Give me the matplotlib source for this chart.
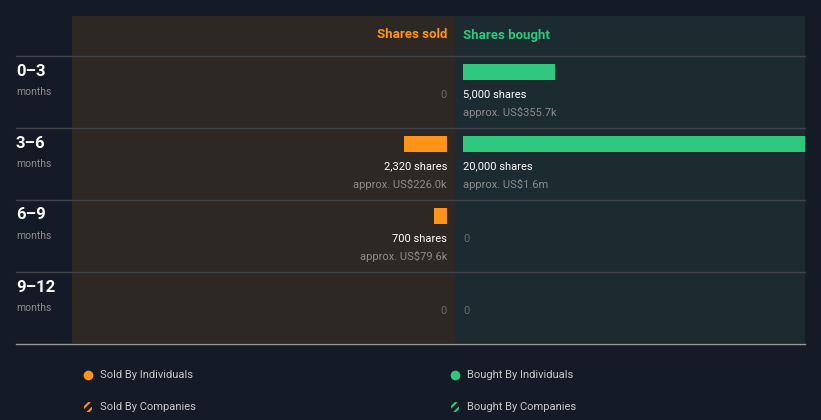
import matplotlib.pyplot as plt
from matplotlib.patches import Rectangle, FancyBboxPatch

plt.rcParams['font.family'] = ['Roboto', 'DejaVu Sans']

# data
periods = ['0\u20133', '3\u20136', '6\u20139', '9\u201312']
sold_shares = [0, 2320, 700, 0]
sold_value = ['', 'approx. US$226.0k', 'approx. US$79.6k', '']
bought_shares = [5000, 20000, 0, 0]
bought_value = ['approx. US$355.7k', 'approx. US$1.6m', '', '']

BG = '#151b26'
SOLD_BG = '#2d2823'
BOUGHT_BG = '#1b2b2f'
ORANGE = '#ff9417'
GREEN = '#2ec97e'
GRAY = '#8c8c8c'
ZERO = '#6a6a6a'

W, H = 821, 420
fig = plt.figure(figsize=(W / 100, H / 100), dpi=100, facecolor=BG)


def fx(x):
    return x / W


def fy(y):
    return 1 - y / H


def rect(x0, y0, x1, y1, **kw):
    fig.patches.append(Rectangle((fx(x0), fy(y1)), fx(x1) - fx(x0), fy(y0) - fy(y1),
                                 transform=fig.transFigure, **kw))


# panels
rect(72, 16, 455, 343, facecolor=SOLD_BG, edgecolor='none', zorder=-2)
rect(455, 16, 805, 343, facecolor=BOUGHT_BG, edgecolor='none', zorder=-2)

# row separators
for y in [56, 128, 200, 272]:
    fig.add_artist(plt.Line2D([fx(16), fx(805)], [fy(y), fy(y)], color='#41434a', lw=1, zorder=-1))
fig.add_artist(plt.Line2D([fx(16), fx(805)], [fy(343.5), fy(343.5)], color='#9a9a9a', lw=1, zorder=-1))

# headers
fig.text(fx(447), fy(35), 'Shares sold', color=ORANGE, fontsize=9.5, fontweight='bold',
         ha='right', va='center')
fig.text(fx(463), fy(35), 'Shares bought', color=GREEN, fontsize=9.5, fontweight='bold',
         ha='left', va='center')

# bar axes (share scale ~0.0184 px per share)
scale = 0.0184
ax_s = fig.add_axes([fx(72), fy(344), fx(447) - fx(72), fy(56) - fy(344)])
ax_b = fig.add_axes([fx(463), fy(344), fx(805) - fx(463), fy(56) - fy(344)])
for ax in (ax_s, ax_b):
    ax.set_facecolor('none')
    ax.set_ylim(4, 0)
    ax.axis('off')
ax_s.set_xlim((447 - 72) / scale, 0)
ax_b.set_xlim(0, (805 - 463) / scale)

rows = [i + 8 / 72 for i in range(4)]
ax_s.barh(rows, sold_shares, height=16 / 72, align='edge', color=ORANGE)
ax_b.barh(rows, bought_shares, height=16 / 72, align='edge', color=GREEN)

for i in range(4):
    top = 56 + 72 * i
    # row labels
    fig.text(fx(16), fy(top + 15), periods[i], color='white', fontsize=12,
             fontweight='bold', ha='left', va='center')
    fig.text(fx(16), fy(top + 36), 'months', color=GRAY, fontsize=7.5, ha='left', va='center')
    # sold side
    if sold_shares[i]:
        fig.text(fx(447), fy(top + 38.5), f'{sold_shares[i]:,} shares', color='white',
                 fontsize=8, ha='right', va='center')
        fig.text(fx(447), fy(top + 56.5), sold_value[i], color=GRAY, fontsize=8,
                 ha='right', va='center')
    else:
        fig.text(fx(447), fy(top + 38.5), '0', color=ZERO, fontsize=8, ha='right', va='center')
    # bought side
    if bought_shares[i]:
        fig.text(fx(463), fy(top + 38.5), f'{bought_shares[i]:,} shares', color='white',
                 fontsize=8, ha='left', va='center')
        fig.text(fx(463), fy(top + 56.5), bought_value[i], color=GRAY, fontsize=8,
                 ha='left', va='center')
    else:
        fig.text(fx(463), fy(top + 38.5), '0', color=ZERO, fontsize=8, ha='left', va='center')

# legend
legend = [('Sold By Individuals', ORANGE, 88, 375, False),
          ('Bought By Individuals', GREEN, 455, 375, False),
          ('Sold By Companies', ORANGE, 88, 407, True),
          ('Bought By Companies', GREEN, 455, 407, True)]
plt.rcParams['hatch.linewidth'] = 1.5
for label, col, x, y, hatched in legend:
    if hatched:
        p = FancyBboxPatch((fx(x - 4), fy(y + 5)), fx(8), fy(0) - fy(10),
                           boxstyle='round,pad=0,rounding_size=0.004',
                           transform=fig.transFigure, facecolor=BG, edgecolor=col,
                           hatch='////', lw=0)
        fig.patches.append(p)
    else:
        fig.add_artist(plt.Line2D([fx(x)], [fy(y)], marker='o', markersize=7,
                                  color=col, markeredgewidth=0))
    fig.text(fx(x + 12), fy(y), label, color='#c8c8c8', fontsize=8, ha='left', va='center')

fig.savefig('out.png', dpi=100, facecolor=BG)
